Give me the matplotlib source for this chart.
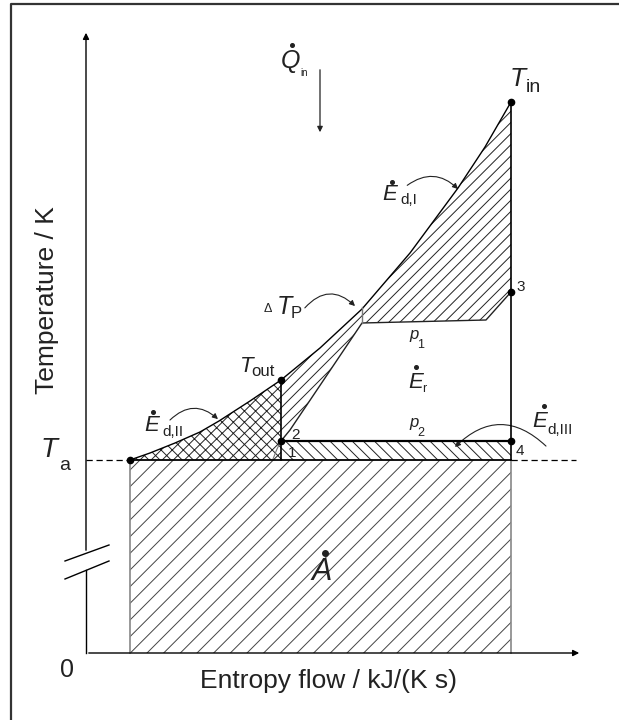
import numpy as np
import matplotlib
matplotlib.use("Agg")
import matplotlib.pyplot as plt
from matplotlib.patches import FancyArrowPatch

plt.rcParams['font.family'] = ['Liberation Sans', 'DejaVu Sans']
plt.rcParams['hatch.linewidth'] = 0.7

# schematic T-s values (arbitrary units)
s_hot = [0.44, 0.64, 0.89, 1.14, 1.33, 1.64, 1.95, 2.34, 2.76, 3.24, 3.72, 3.99, 4.25]
T_hot = [1.93, 2.00, 2.10, 2.21, 2.32, 2.52, 2.73, 3.05, 3.44, 4.00, 4.65, 5.06, 5.51]
s_cold = [1.95, 2.04, 2.76, 4.00, 4.25]
T_cold = [2.12, 2.23, 3.30, 3.33, 3.61]
s_cold_tail = [1.87, 1.91, 1.95]
T_cold_tail = [1.94, 2.04, 2.12]
T_a = 1.93
T_p2 = 2.12
s_a, s_out, s_in = 0.44, 1.95, 4.25
pinch_s, pinch_T = 2.76, [3.30, 3.46]

fig = plt.figure(figsize=(6.19, 7.2), dpi=100)
ax = fig.add_axes([0, 0, 1, 1])
ax.set_xlim(-0.86, 5.33)
ax.set_ylim(-0.67, 6.53)
ax.axis('off')

# outer frame
ax.plot([-0.75, -0.75, 5.4], [-0.8, 6.49, 6.49], color='#333333', lw=1.6, clip_on=False)

# axes with arrows
ax.annotate('', xy=(0, 6.23), xytext=(0, 1.0),
            arrowprops=dict(arrowstyle='-|>', color='k', lw=1, mutation_scale=9))
ax.plot([0, 0], [0, 0.83], color='k', lw=1)
ax.annotate('', xy=(4.96, 0), xytext=(0, 0),
            arrowprops=dict(arrowstyle='-|>', color='k', lw=1, mutation_scale=9))
ax.plot([-0.21, 0.23], [0.92, 1.08], color='k', lw=1)
ax.plot([-0.21, 0.23], [0.74, 0.92], color='k', lw=1)

# ambient line
ax.plot([0, s_a], [T_a, T_a], color='k', lw=0.9, ls=(0, (5, 3)))
ax.plot([s_in, 4.90], [T_a, T_a], color='k', lw=0.9, ls=(0, (5, 3)))

s_hot = np.array(s_hot)
T_hot = np.array(T_hot)
hi = s_hot >= s_out
lo = s_hot <= s_out
i_out = int(np.argmin(abs(s_hot - s_out)))

# region A
ax.fill([s_a, s_in, s_in, s_a], [0, 0, T_a, T_a], facecolor='none',
        edgecolor='#444444', hatch='//', lw=0)
ax.plot([s_a, s_a], [0, T_a], color='#888888', lw=1.2)
ax.plot([s_in, s_in], [0, T_a], color='#888888', lw=1.2)

# E_d,I region between hot and cold lines
px = list(s_hot[hi]) + s_cold[::-1]
py = list(T_hot[hi]) + T_cold[::-1]
ax.fill(px, py, facecolor='none', edgecolor='#222222', hatch='///', lw=0)

# E_d,II region
px = list(s_hot[lo]) + [s_out]
py = list(T_hot[lo]) + [T_a]
ax.fill(px, py, facecolor='none', edgecolor='#222222', hatch='xxx', lw=0)

# E_d,III region
ax.fill([s_out, s_in, s_in, s_out], [T_a, T_a, T_p2, T_p2], facecolor='none',
        edgecolor='#222222', hatch='\\\\\\', lw=0)

# lines
ax.plot(s_hot, T_hot, color='k', lw=1)
ax.plot(s_cold, T_cold, color='#222222', lw=1)
ax.plot(s_cold_tail, T_cold_tail, color='#777777', lw=0.8)
ax.plot([s_out, s_out], [T_a, T_hot[i_out]], color='k', lw=1.2)
ax.plot([s_in, s_in], [T_a, T_hot[-1]], color='k', lw=1.2)
ax.plot([s_out, s_in], [T_p2, T_p2], color='k', lw=1.6)
ax.plot([s_a, s_in], [T_a, T_a], color='k', lw=1.3)
ax.plot([pinch_s, pinch_s], pinch_T, color='#777777', lw=1)

# state points
pts_s = [s_a, s_out, s_out, s_in, s_in, s_in]
pts_T = [T_a, T_hot[i_out], T_p2, T_p2, T_cold[-1], T_hot[-1]]
ax.plot(pts_s, pts_T, 'o', color='k', ms=4.5)

it = dict(style='italic', ha='center', va='center', color='#222222')
rm = dict(ha='center', va='center', color='#222222')


def dot(x, y, ms=2.6):
    ax.plot([x], [y], 'o', color='#222222', ms=ms)


def curved(p0, p1, rad):
    ax.add_patch(FancyArrowPatch(p0, p1, connectionstyle=f'arc3,rad={rad}',
                                 arrowstyle='-|>', mutation_scale=8,
                                 color='#222222', lw=0.8))


# axis labels
ax.text(-0.39, 3.53, 'Temperature / K', rotation=90, fontsize=19, **rm)
ax.text(2.43, -0.28, 'Entropy flow / kJ/(K s)', fontsize=19, **rm)
ax.text(-0.19, -0.17, '0', fontsize=18, **rm)

# T_a
ax.text(-0.37, 2.03, 'T', fontsize=20, **it)
ax.text(-0.21, 1.87, 'a', fontsize=14, **rm)

# Q_in
ax.text(2.05, 5.92, 'Q', fontsize=18, **it)
dot(2.06, 6.08)
ax.text(2.18, 5.805, 'in', fontsize=7, **rm)
ax.annotate('', xy=(2.34, 5.18), xytext=(2.34, 5.86),
            arrowprops=dict(arrowstyle='-|>', color='#222222', lw=0.9, mutation_scale=8))

# T_in
ax.text(4.32, 5.74, 'T', fontsize=19, **it)
ax.text(4.47, 5.65, 'in', fontsize=14, **rm)

# E_d,I
ax.text(3.04, 4.585, 'E', fontsize=16, **it)
dot(3.06, 4.71)
ax.text(3.23, 4.53, 'd,I', fontsize=11, **rm)
curved((3.19, 4.66), (3.74, 4.62), -0.45)

# Delta T_P
ax.text(1.82, 3.44, '\u0394', fontsize=9, **rm)
ax.text(1.98, 3.46, 'T', fontsize=18, **it)
ax.text(2.10, 3.40, 'P', fontsize=12, **rm)
curved((2.17, 3.43), (2.71, 3.45), -0.55)

# pressures
ax.text(3.28, 3.19, 'p', fontsize=12, **it)
ax.text(3.35, 3.08, '1', fontsize=9, **rm)
ax.text(3.28, 2.31, 'p', fontsize=12, **it)
ax.text(3.345, 2.20, '2', fontsize=9, **rm)

# T_out
ax.text(1.61, 2.86, 'T', fontsize=16, **it)
ax.text(1.77, 2.82, 'out', fontsize=12, **rm)

# E_r
ax.text(3.30, 2.71, 'E', fontsize=16, **it)
dot(3.30, 2.86)
ax.text(3.385, 2.64, 'r', fontsize=9, **rm)

# E_d,II
ax.text(0.655, 2.275, 'E', fontsize=16, **it)
dot(0.67, 2.41)
ax.text(0.865, 2.215, 'd,II', fontsize=11, **rm)
curved((0.82, 2.31), (1.34, 2.32), -0.5)

# E_d,III
ax.text(4.54, 2.315, 'E', fontsize=16, **it)
dot(4.58, 2.47)
ax.text(4.745, 2.23, 'd,III', fontsize=11, **rm)
curved((4.62, 2.05), (3.67, 2.04), 0.5)

# point numbers
ax.text(2.09, 2.18, '2', fontsize=11, **rm)
ax.text(2.06, 2.00, '1', fontsize=11, **rm)
ax.text(4.35, 3.66, '3', fontsize=11, **rm)
ax.text(4.335, 2.02, '4', fontsize=11, **rm)

# A
ax.text(2.36, 0.815, 'A', fontsize=22, **it)
dot(2.39, 1.00, ms=4)

fig.savefig('out.png', dpi=100)
